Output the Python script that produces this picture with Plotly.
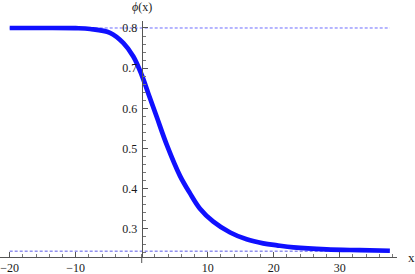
import plotly.graph_objects as go

# curve samples
phi_x = [-20, -15, -10, -7.8, -4.8, -2.8, -1.27, 0, 1.0, 2.27, 3.8, 5.8, 7.3, 8.8,
         10.85, 13.4, 15.9, 18.4, 20.5, 23, 28, 33, 37.6]
phi_y = [0.800, 0.800, 0.7995, 0.7975, 0.788, 0.763, 0.729, 0.683, 0.637, 0.579, 0.509,
         0.432, 0.389, 0.351, 0.318, 0.291, 0.274, 0.264, 0.259, 0.254, 0.249, 0.247, 0.2455]

# horizontal reference levels (dashed)
upper_level = 0.8
lower_level = 0.2445
level_x = [-20, 37.6]

x_ticks = [-20, -10, 10, 20, 30]
y_ticks = [0.3, 0.4, 0.5, 0.6, 0.7, 0.8]

x_range = [-21.47, 38.68]
y_range = [0.23, 0.8174]

serif = "Liberation Serif, Times New Roman, serif"
txt = "#1a1a1a"

fig = go.Figure()
fig.add_trace(go.Scatter(x=level_x, y=[upper_level, upper_level], mode="lines",
                         line=dict(color="#6c6cff", width=1, dash="3px,2px"),
                         hoverinfo="skip"))
fig.add_trace(go.Scatter(x=level_x, y=[lower_level, lower_level], mode="lines",
                         line=dict(color="#5a5ae6", width=1, dash="3px,2px"),
                         hoverinfo="skip"))
fig.add_trace(go.Scatter(x=phi_x, y=phi_y, mode="lines",
                         line=dict(color="#1010ff", width=4.7, shape="spline", smoothing=1)))

pos0 = (0 - x_range[0]) / (x_range[1] - x_range[0])

fig.update_layout(
    width=415, height=274,
    margin=dict(l=0, r=18, t=21, b=17),
    paper_bgcolor="white", plot_bgcolor="white",
    showlegend=False,
    font=dict(family=serif, size=12, color=txt),
    xaxis=dict(range=x_range, showgrid=False, zeroline=False, automargin=False,
               showline=True, linecolor="#555", linewidth=1,
               tickmode="array", tickvals=x_ticks,
               ticks="inside", ticklen=5, tickcolor="#555",
               minor=dict(dtick=2, tick0=0, ticks="inside", ticklen=3, tickcolor="#777"),
               tickfont=dict(family=serif, size=12, color=txt)),
    yaxis=dict(range=y_range, showgrid=False, zeroline=False, automargin=False,
               anchor="free", position=pos0, side="left",
               showline=True, linecolor="#555", linewidth=1,
               tickmode="array", tickvals=y_ticks, ticktext=[f"{v:.1f}" for v in y_ticks],
               ticks="inside", ticklen=5, tickcolor="#555",
               ticklabelstandoff=2,
               minor=dict(dtick=0.02, tick0=0, ticks="inside", ticklen=3, tickcolor="#777"),
               tickfont=dict(family=serif, size=12, color=txt)),
    shapes=[dict(type="line", xref="x", yref="paper", x0=0, x1=0, y0=0, y1=-6 / 236,
                 line=dict(color="#555", width=1))],
    annotations=[
        dict(text="<i>ϕ</i>(x)", xref="x", yref="paper", x=0, y=1, yshift=14,
             showarrow=False, xanchor="center", yanchor="middle",
             font=dict(family=serif, size=12, color=txt)),
        dict(text="x", xref="paper", yref="y", x=1, y=y_range[0], xshift=14,
             showarrow=False, xanchor="center", yanchor="middle",
             font=dict(family=serif, size=13, color=txt)),
    ],
)

fig.write_html("out.html",
               config={"displayModeBar": False, "staticPlot": True},
               post_script="document.body.style.margin='0';document.body.style.padding='0';")
